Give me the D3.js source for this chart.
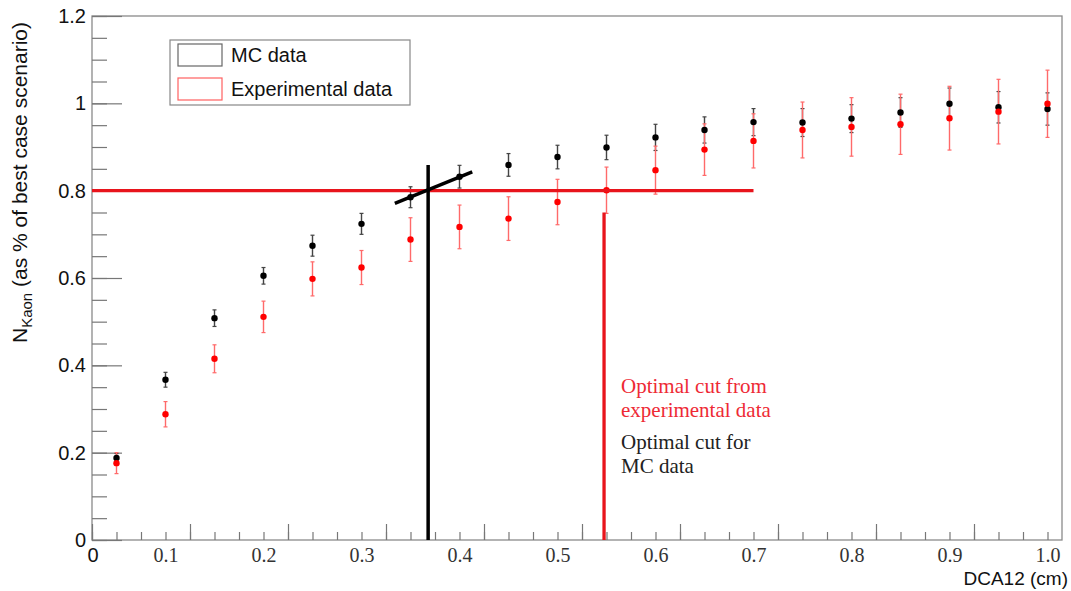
<!DOCTYPE html>
<html><head><meta charset="utf-8">
<script src="https://cdn.jsdelivr.net/npm/d3@7"></script>
<style>body{margin:0;background:#fff}svg{display:block}</style>
</head><body><svg id="c" width="1071" height="591"></svg>
<script>
// ---------- data ----------
const dca = [0.05,0.10,0.15,0.20,0.25,0.30,0.35,0.40,0.45,0.50,0.55,0.60,0.65,0.70,0.75,0.80,0.85,0.90,0.95,1.00];
const mcValues  = [0.188,0.367,0.508,0.605,0.674,0.724,0.785,0.832,0.859,0.877,0.899,0.922,0.939,0.957,0.956,0.965,0.979,0.999,0.991,0.987];
const mcErrors  = [0.010,0.017,0.019,0.019,0.024,0.024,0.024,0.026,0.026,0.027,0.028,0.030,0.030,0.031,0.032,0.032,0.034,0.036,0.036,0.037];
const expValues = [0.176,0.288,0.415,0.511,0.598,0.624,0.688,0.717,0.736,0.774,0.801,0.847,0.894,0.914,0.939,0.946,0.952,0.966,0.981,0.999];
const expErrors = [0.024,0.029,0.032,0.036,0.039,0.039,0.050,0.050,0.050,0.052,0.053,0.055,0.059,0.062,0.064,0.067,0.069,0.073,0.074,0.077];

const xTickLabelValues = [0.1,0.2,0.3,0.4,0.5,0.6,0.7,0.8,0.9,1.0];
const xTickLabels = ["0.1","0.2","0.3","0.4","0.5","0.6","0.7","0.8","0.9","1.0"];
const yTickValues = [0,0.2,0.4,0.6,0.8,1.0,1.2];
const yTickLabels = ["0","0.2","0.4","0.6","0.8","1","1.2"];

const seriesNames = ["MC data","Experimental data"];
const seriesColors = ["#000000","#ff0000"];
const errColors = ["#444444","#ff6a6a"];

// annotation cut lines, in data units: [x1,y1,x2,y2]
const redHLine = [0.025,0.8,0.70,0.8];
const redVLine = [0.5475,0,0.5475,0.75];
const blackVLine = [0.368,0,0.368,0.859];
const blackSlant = [0.334,0.771,0.413,0.843];
const expCutText = ["Optimal cut from","experimental data"];
const mcCutText = ["Optimal cut for","MC data"];

// ---------- layout ----------
const svg = d3.select("#c");
const L = 92, R = 1062, T = 16, B = 540;
const x = d3.scaleLinear().domain([0.025, 0.025 + (R - L) / 980]).range([L, R]);
const y = d3.scaleLinear().domain([0, 1.2]).range([B, T]);
const sans = "Liberation Sans, Arial, sans-serif";
const serif = "Liberation Serif, Times New Roman, serif";

// frame
svg.append("rect").attr("x", L).attr("y", T).attr("width", R - L).attr("height", B - T)
  .attr("fill", "none").attr("stroke", "#8a8a8a").attr("stroke-width", 1.3);

// x ticks (original ROOT tick grid)
const xMinor = d3.range(0, 40).map(j => 0.025 + 0.025 * j).filter(v => v <= x.domain()[1]);
const xMajor = xMinor.filter((v, j) => j % 4 === 0);
function styleAxis(g) {
  g.select(".domain").remove();
  g.selectAll("line").attr("stroke", "#777").attr("stroke-width", 1.2);
}
svg.append("g").attr("transform", `translate(0,${B})`)
  .call(d3.axisBottom(x).tickValues(xMinor).tickSize(-8).tickFormat("")).call(styleAxis);
svg.append("g").attr("transform", `translate(0,${B})`)
  .call(d3.axisBottom(x).tickValues(xMajor).tickSize(-16).tickFormat("")).call(styleAxis);

// x tick labels (serif overlay)
const xl = svg.append("g").attr("transform", `translate(0,${B})`)
  .call(d3.axisBottom(x).tickValues(xTickLabelValues).tickSize(0).tickPadding(8)
    .tickFormat((d, i) => xTickLabels[i]));
xl.select(".domain").remove();
xl.selectAll("text").attr("font-family", serif).attr("font-size", 20).attr("fill", "#333");
svg.append("text").attr("x", x(0.025) + 1).attr("y", 562).attr("text-anchor", "middle")
  .attr("font-family", sans).attr("font-size", 20).attr("fill", "#111").text("0");

// y ticks
const yMinor = d3.range(0, 25).map(j => +(0.05 * j).toFixed(2));
svg.append("g").attr("transform", `translate(${L},0)`)
  .call(d3.axisLeft(y).tickValues(yMinor).tickSize(-15).tickFormat("")).call(styleAxis);
const yl = svg.append("g").attr("transform", `translate(${L},0)`)
  .call(d3.axisLeft(y).tickValues(yTickValues).tickSize(-30).tickPadding(6)
    .tickFormat((d, i) => yTickLabels[i]));
yl.call(styleAxis);
yl.selectAll("text").attr("font-family", sans).attr("font-size", 20).attr("fill", "#111");

// axis titles
svg.append("text").attr("x", 1068).attr("y", 585).attr("text-anchor", "end")
  .attr("font-family", sans).attr("font-size", 19).attr("fill", "#111").text("DCA12 (cm)");
const yt = svg.append("text").attr("transform", "translate(27,343) rotate(-90)")
  .attr("font-family", sans).attr("font-size", 21).attr("fill", "#111");
yt.append("tspan").text("N");
yt.append("tspan").attr("font-size", 15).attr("dy", 5).text("Kaon");
yt.append("tspan").attr("dy", -5).text(" (as % of best case scenario)");

// data
const series = [
  { vals: mcValues, errs: mcErrors },
  { vals: expValues, errs: expErrors }
];
series.forEach((s, k) => {
  const g = svg.append("g");
  const rows = dca.map((d, i) => ({ x: d, v: s.vals[i], e: s.errs[i] }));
  g.selectAll("line.eb").data(rows).join("line")
    .attr("x1", d => x(d.x)).attr("x2", d => x(d.x))
    .attr("y1", d => y(d.v - d.e)).attr("y2", d => y(d.v + d.e))
    .attr("stroke", errColors[k]).attr("stroke-width", 1.4);
  ["lo", "hi"].forEach(side => {
    g.selectAll("line.cap" + side).data(rows).join("line")
      .attr("x1", d => x(d.x) - 2).attr("x2", d => x(d.x) + 2)
      .attr("y1", d => y(side === "lo" ? d.v - d.e : d.v + d.e))
      .attr("y2", d => y(side === "lo" ? d.v - d.e : d.v + d.e))
      .attr("stroke", errColors[k]).attr("stroke-width", 1.2);
  });
});
series.forEach((s, k) => {
  svg.append("g").selectAll("circle").data(dca.map((d, i) => ({ x: d, v: s.vals[i] }))).join("circle")
    .attr("cx", d => x(d.x)).attr("cy", d => y(d.v)).attr("r", 3.2).attr("fill", seriesColors[k]);
});

// annotation lines
function seg(a, color, w) {
  svg.append("line").attr("x1", x(a[0])).attr("y1", y(a[1])).attr("x2", x(a[2])).attr("y2", y(a[3]))
    .attr("stroke", color).attr("stroke-width", w);
}
seg(redHLine, "#e8141c", 3.3);
seg(redVLine, "#e8141c", 3.3);
seg(blackVLine, "#000", 3.5);
seg(blackSlant, "#000", 3.5);

// annotation text
const tx = 621;
expCutText.forEach((t, i) => svg.append("text").attr("x", tx).attr("y", 393 + 24 * i)
  .attr("font-family", serif).attr("font-size", 21).attr("fill", "#ee2a35").text(t));
mcCutText.forEach((t, i) => svg.append("text").attr("x", tx).attr("y", 449 + 24 * i)
  .attr("font-family", serif).attr("font-size", 21).attr("fill", "#222").text(t));

// legend
const lg = svg.append("g");
lg.append("rect").attr("x", 170).attr("y", 40).attr("width", 240).attr("height", 65)
  .attr("fill", "#fff").attr("stroke", "#888").attr("stroke-width", 1.2);
seriesNames.forEach((n, i) => {
  lg.append("rect").attr("x", 178).attr("y", 44 + 34 * i).attr("width", 44).attr("height", 22)
    .attr("fill", "none").attr("stroke", i === 0 ? "#666" : "#ff6060").attr("stroke-width", 1.2);
  lg.append("text").attr("x", 231).attr("y", 62 + 34 * i)
    .attr("font-family", sans).attr("font-size", 20).attr("fill", "#111").text(n);
});
</script></body></html>
